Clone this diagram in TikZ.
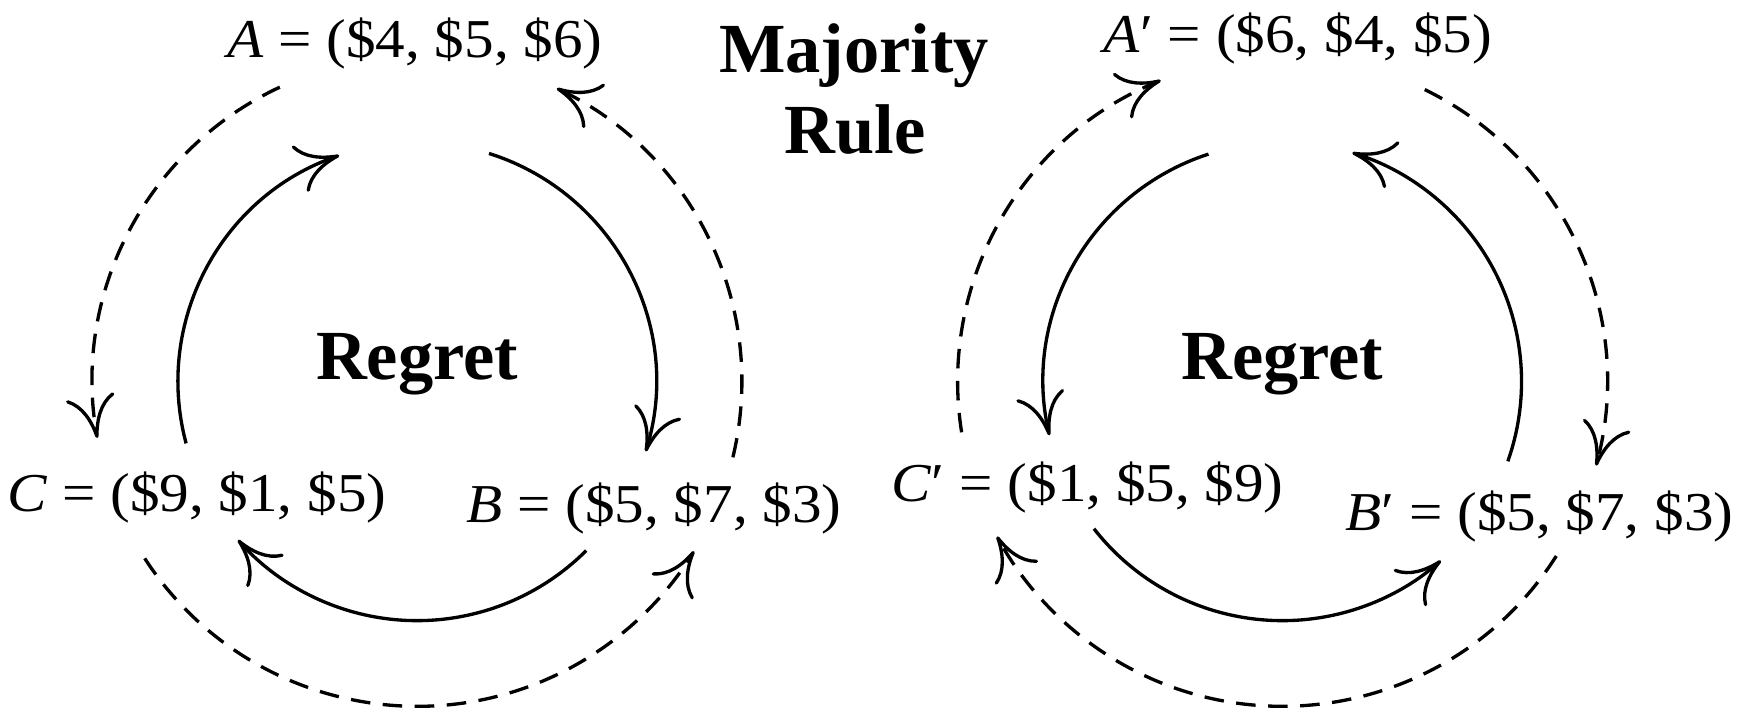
\documentclass[tikz,border=0pt]{standalone}
\usepackage{fontspec}
\setmainfont{Liberation Serif}
\newfontfamily\labfont{Liberation Serif}[FakeStretch=1.08]
\usetikzlibrary{arrows.meta,calc}
\begin{document}
\begin{tikzpicture}[x=0.01cm,y=0.01cm,
  lab/.style={anchor=base,inner sep=0pt,font=\labfont\fontsize{14}{16}\selectfont},
  ttl/.style={anchor=base,inner sep=0pt,font=\bfseries\fontsize{18}{21}\selectfont},
  arr/.style={line width=0.85pt,-{Computer Modern Rightarrow[length=3.8mm,width=4.4mm,line width=0.85pt]}},
  solidarc/.style={arr},
  dasharc/.style={arr,dash pattern=on 5pt off 3.2pt}]
\useasboundingbox (0,0) rectangle (1568,-638);
% centres
\coordinate (OL) at (375,-343);
\coordinate (OR) at (1153,-343);
% labels
\node[lab] (A) at (373,-52) {\textit{A} = (\$4, \$5, \$6)};
\node[lab] (B) at (588,-470) {\textit{B} = (\$5, \$7, \$3)};
\node[lab] (C) at (177,-460) {\textit{C} = (\$9, \$1, \$5)};
\node[lab] (Ap) at (1167,-47) {\textit{A}′ = (\$6, \$4, \$5)};
\node[lab] (Bp) at (1384,-477) {\textit{B}′ = (\$5, \$7, \$3)};
\node[lab] (Cp) at (978,-451) {\textit{C}′ = (\$1, \$5, \$9)};
\node[ttl] (maj) at (768,-65) {Majority};
\node[ttl] (rule) at (769,-138) {Rule};
\node[ttl] (regL) at (375,-341) {Regret};
\node[ttl] (regR) at (1153,-341) {Regret};
% left cycle: arc end points
\coordinate (CAs) at ($(OL)+(195:215)$);
\coordinate (ABs) at ($(OL)+(72.5:215)$);
\coordinate (BCs) at ($(OL)+(-45:215)$);
\coordinate (ACd) at ($(OL)+(115:292)$);
\coordinate (CBd) at ($(OL)+(213:292)$);
\coordinate (BAd) at ($(OL)+(-13.5:292)$);
\draw[solidarc] (CAs) arc[start angle=195,end angle=109,radius=215];
\draw[solidarc] (ABs) arc[start angle=72.5,end angle=-17,radius=215];
\draw[solidarc] (BCs) arc[start angle=-45,end angle=-138.5,radius=215];
\draw[dasharc] (ACd) arc[start angle=115,end angle=190,radius=292];
\draw[dasharc] (CBd) arc[start angle=213,end angle=328.5,radius=292];
\draw[dasharc] (BAd) arc[start angle=-13.5,end angle=64.5,radius=292];
% right cycle
\coordinate (ACps) at ($(OR)+(108:215)$);
\coordinate (CBps) at ($(OR)+(218:215)$);
\coordinate (BAps) at ($(OR)+(-19.5:215)$);
\coordinate (CApd) at ($(OR)+(189:292)$);
\coordinate (ABpd) at ($(OR)+(64:292)$);
\coordinate (BCpd) at ($(OR)+(-32.5:292)$);
\draw[solidarc] (ACps) arc[start angle=108,end angle=193,radius=215];
\draw[solidarc] (CBps) arc[start angle=218,end angle=311.5,radius=215];
\draw[solidarc] (BAps) arc[start angle=-19.5,end angle=73,radius=215];
\draw[dasharc] (CApd) arc[start angle=189,end angle=112,radius=292];
\draw[dasharc] (ABpd) arc[start angle=64,end angle=-15,radius=292];
\draw[dasharc] (BCpd) arc[start angle=-32.5,end angle=-151.5,radius=292];
\end{tikzpicture}
\end{document}
